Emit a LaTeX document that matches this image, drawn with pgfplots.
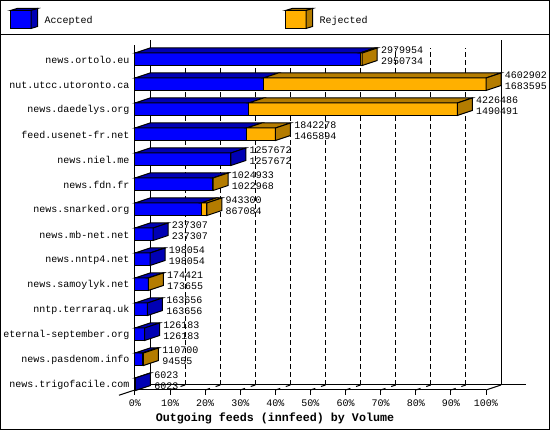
\documentclass[border=0pt]{standalone}
\usepackage{pgfplots}
\pgfplotsset{compat=1.18}
\usepackage{fontspec}
\setmainfont{Liberation Mono}
\setmonofont{Liberation Mono}
\definecolor{acc}{HTML}{0000FF}
\definecolor{accd}{HTML}{0000B4}
\definecolor{rej}{HTML}{FFB000}
\definecolor{rejd}{HTML}{B47C00}
\newcommand{\lab}{\fontsize{10pt}{10pt}\selectfont}
% one 3D bar: row, accepted %, total %, total text, accepted text
\newcommand{\OneBar}[5]{%
  \pgfmathsetmacro\yb{#1-0.25}\pgfmathsetmacro\yt{#1+0.25}\pgfmathsetmacro\ybk{#1+0.45}%
  \pgfmathsetmacro\ybb{#1-0.05}%
  \pgfmathsetmacro\ad{#2+4.274}\pgfmathsetmacro\td{#3+4.274}%
  \pgfmathsetmacro\ly{#1+0.36}\pgfmathsetmacro\lz{#1-0.08}\pgfmathsetmacro\lx{#3+5.3}%
  \pgfmathsetmacro\isrej{#3>#2?1:0}%
  \edef\tmp{\noexpand\addplot[draw=black,fill=acc,line width=1pt,forget plot] coordinates {(0,\yb)(#2,\yb)(#2,\yt)(0,\yt)} --cycle;
    \noexpand\addplot[draw=black,fill=accd,line width=1pt,forget plot] coordinates {(0,\yt)(#2,\yt)(\ad,\ybk)(4.274,\ybk)} --cycle;}\tmp
  \ifdim\isrej pt>0.5pt
    \edef\tmp{\noexpand\addplot[draw=black,fill=rej,line width=1pt,forget plot] coordinates {(#2,\yb)(#3,\yb)(#3,\yt)(#2,\yt)} --cycle;
      \noexpand\addplot[draw=black,fill=rejd,line width=1pt,forget plot] coordinates {(#2,\yt)(#3,\yt)(\td,\ybk)(\ad,\ybk)} --cycle;
      \noexpand\addplot[draw=black,fill=rejd,line width=1pt,forget plot] coordinates {(#3,\yb)(#3,\yt)(\td,\ybk)(\td,\ybb)} --cycle;}\tmp
  \else
    \edef\tmp{\noexpand\addplot[draw=black,fill=accd,line width=1pt,forget plot] coordinates {(#3,\yb)(#3,\yt)(\td,\ybk)(\td,\ybb)} --cycle;}\tmp
  \fi
  \edef\tmp{\noexpand\node[anchor=west,inner sep=0pt,font=\noexpand\lab] at (axis cs:\lx,\ly) {#4};
    \noexpand\node[anchor=west,inner sep=0pt,font=\noexpand\lab] at (axis cs:\lx,\lz) {#5};}\tmp
}
\newcommand{\GridX}[1]{%
  \pgfmathsetmacro\gx{#1+4.274}%
  \edef\tmp{\noexpand\addplot[black,line width=1pt,dash pattern=on 5pt off 3pt,forget plot] coordinates {(\gx,-0.03)(\gx,13.45)};
    \noexpand\addplot[black,line width=1pt,dash pattern=on 5pt off 6pt,forget plot] coordinates {(#1,-0.23)(\gx,-0.03)};}\tmp
}
\begin{document}
\begin{tikzpicture}[x=1pt,y=1pt]
\useasboundingbox (0,0) rectangle (550,430);
\fill[white] (0,0) rectangle (550,430);
\begin{axis}[
  at={(135pt,40pt)}, anchor=south west,
  scale only axis, width=351pt, height=345pt,
  xmin=0, xmax=100, ymin=-0.23, ymax=13.57,
  clip=false,
  axis lines=left,
  axis line style={-,black,line width=1pt},
  xtick={0,10,...,100},
  xticklabels={0\%,10\%,20\%,30\%,40\%,50\%,60\%,70\%,80\%,90\%,100\%},
  ytick={0,...,13},
  yticklabels={news.trigofacile.com,news.pasdenom.info,eternal-september.org,nntp.terraraq.uk,news.samoylyk.net,news.nntp4.net,news.mb-net.net,news.snarked.org,news.fdn.fr,news.niel.me,feed.usenet-fr.net,news.daedelys.org,nut.utcc.utoronto.ca,news.ortolo.eu},
  tick label style={font=\lab},
  tick align=outside,
  x tick style={black,line width=1pt},
  y tick style={draw=none},
  x tick label style={yshift=-1pt},
  y tick label style={xshift=3pt,yshift=-0.5pt},
  major tick length=5pt,
  xlabel={\fontsize{11.67pt}{12pt}\selectfont\bfseries Outgoing feeds (innfeed) by Volume},
  xlabel style={at={(axis description cs:0.5,0)},anchor=north,yshift=-19pt,xshift=-35.5pt},
]
% floor and back walls
\addplot[black,line width=1pt,forget plot] coordinates {(-4.56,-0.44)(4.274,-0.03)};
\addplot[black,line width=1pt,forget plot] coordinates {(4.274,-0.03)(111.4,-0.03)};
\addplot[black,line width=1pt,forget plot] coordinates {(100,-0.23)(104.274,-0.03)};
\addplot[black,line width=1pt,forget plot] coordinates {(4.274,-0.03)(4.274,13.77)};
\addplot[black,line width=1pt,forget plot] coordinates {(104.274,-0.03)(104.274,13.77)};
\GridX{10}\GridX{20}\GridX{30}\GridX{40}\GridX{50}\GridX{60}\GridX{70}\GridX{80}\GridX{90}
% bars
\OneBar{13}{64.11}{64.74}{2979954}{2950734}
\OneBar{12}{36.58}{100}{4602902}{1683595}
\OneBar{11}{32.38}{91.82}{4226486}{1490491}
\OneBar{10}{31.85}{40.02}{1842278}{1465894}
\OneBar{9}{27.32}{27.32}{1257672}{1257672}
\OneBar{8}{22.22}{22.27}{1024933}{1022968}
\OneBar{7}{18.84}{20.49}{943300}{867084}
\OneBar{6}{5.16}{5.16}{237307}{237307}
\OneBar{5}{4.30}{4.30}{198054}{198054}
\OneBar{4}{3.77}{3.79}{174421}{173655}
\OneBar{3}{3.56}{3.56}{163656}{163656}
\OneBar{2}{2.74}{2.74}{126183}{126183}
\OneBar{1}{2.05}{2.41}{110700}{94555}
\OneBar{0}{0.13}{0.13}{6023}{6023}
\end{axis}
% frame and legend
\draw[black,line width=1pt] (0.5,0.5) rectangle (549.5,429.5);
\draw[black,line width=1pt] (0,395) -- (550,395);
\foreach \ox/\cf/\cd/\t in {0/acc/accd/Accepted,275/rej/rejd/Rejected}{
  \begin{scope}[xshift=\ox pt]
  \filldraw[draw=black,line width=1pt,fill=\cf] (10.5,401.5) rectangle (31,419.5);
  \filldraw[draw=black,line width=1pt,fill=\cd] (10.5,419.5) -- (17,421.5) -- (37.5,421.5) -- (31,419.5) -- cycle;
  \filldraw[draw=black,line width=1pt,fill=\cd] (31,401.5) -- (37.5,403.5) -- (37.5,421.5) -- (31,419.5) -- cycle;
  \node[anchor=west,inner sep=0pt,font=\lab] at (44.5,409) {\t};
  \end{scope}
}
\end{tikzpicture}
\end{document}
